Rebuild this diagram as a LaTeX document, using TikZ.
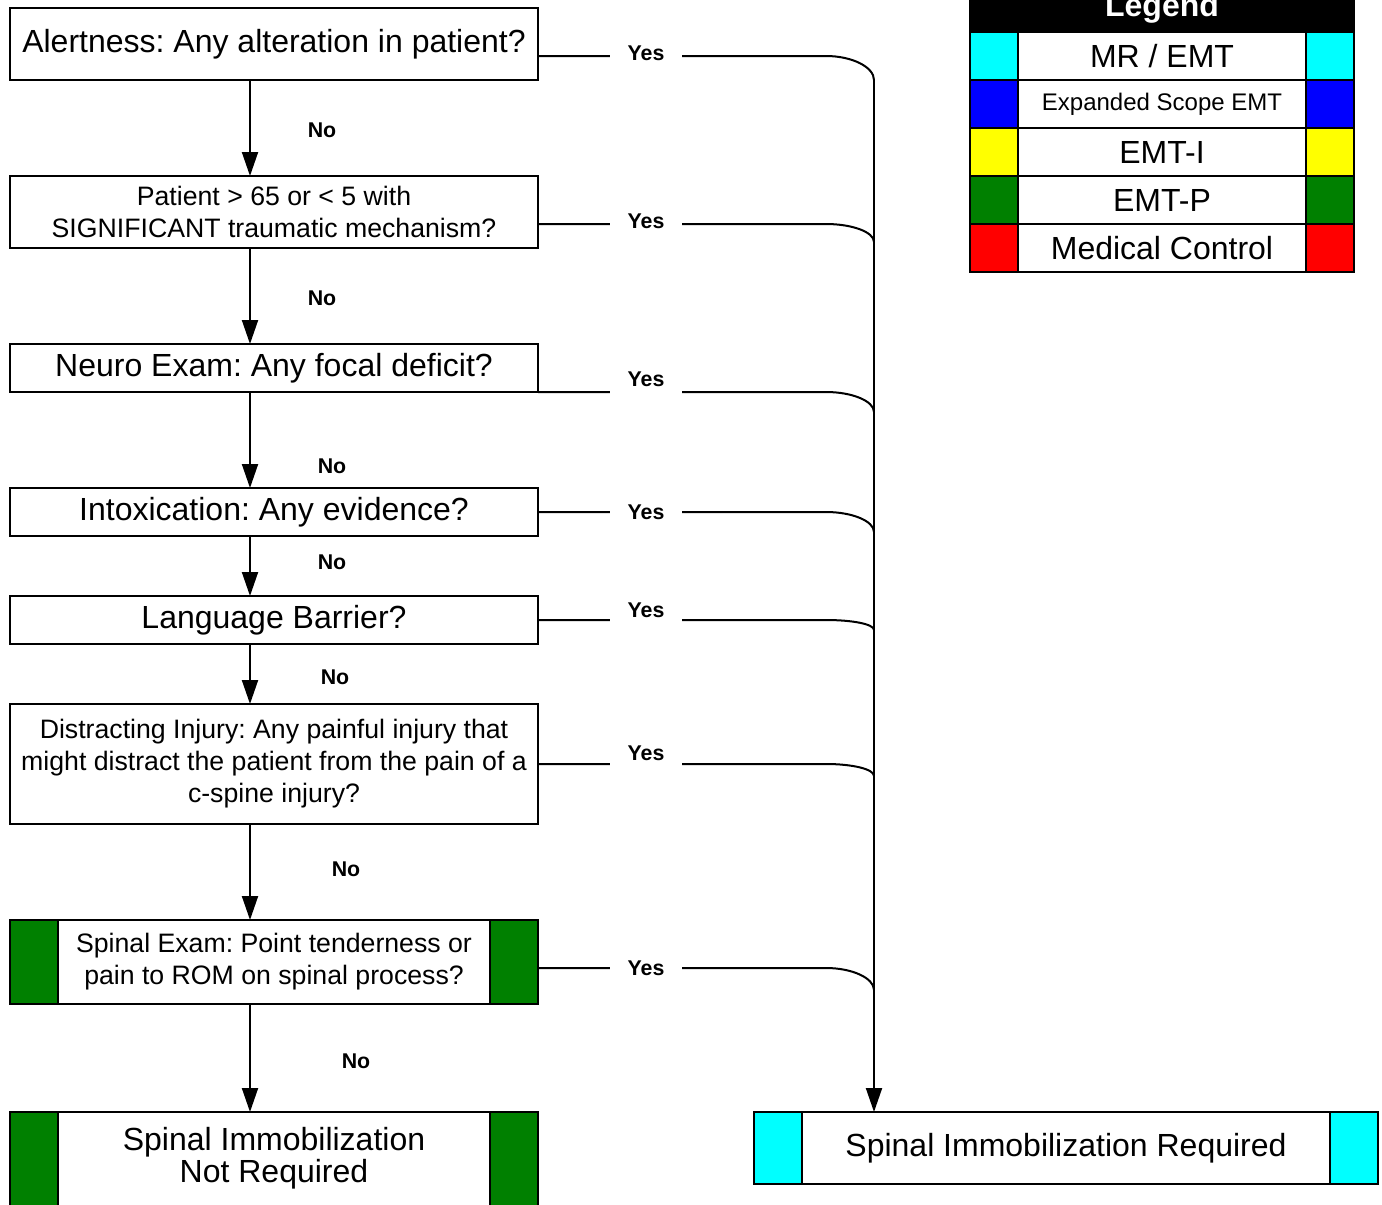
\documentclass[tikz,border=0pt]{standalone}
\usepackage{fontspec}
\setmainfont{Liberation Sans}
\frenchspacing
\usetikzlibrary{arrows.meta, positioning, calc}
\definecolor{mrcyan}{RGB}{0, 255, 255}
\definecolor{scopeblue}{RGB}{0, 0, 255}
\definecolor{emtiyellow}{RGB}{255, 255, 0}
\definecolor{emtpgreen}{RGB}{0, 128, 0}
\definecolor{medred}{RGB}{255, 0, 0}
\tikzset{
  >=Triangle,
  flowarrow/.style={-{Triangle[length=24pt, width=16pt]}, line width=2pt, black},
  yesline/.style={line width=2pt, black},
  stepbox/.style={draw, line width=2pt, fill=white, minimum width=528pt, inner sep=2pt, outer sep=0pt, align=center},
  bigtext/.style={font=\fontsize{32}{32}\selectfont},
  midtext/.style={font=\fontsize{26.67}{32}\selectfont},
  answer/.style={font=\bfseries\fontsize{21.33}{24}\selectfont, fill=white, inner sep=0pt, minimum width=72pt, minimum height=32pt},
  nolabel/.style={font=\bfseries\fontsize{21.33}{24}\selectfont, inner sep=0pt},
  colorbar/.style={draw, line width=2pt},
  legendrow/.style={draw, line width=2pt, fill=white, minimum width=384pt, minimum height=48pt, inner sep=0pt, outer sep=0pt, font=\fontsize{32}{32}\selectfont}
}
\begin{document}
\begin{tikzpicture}[x=1pt, y=-1pt, node distance=96pt]
\useasboundingbox (0,0) rectangle (1382,1205);
% questions
\node[stepbox, bigtext, minimum height=72pt] (a) at (274,44) {Alertness: Any alteration in patient?};
\node[stepbox, midtext, minimum height=72pt, below=of a] (b) {Patient > 65 or < 5 with\\SIGNIFICANT traumatic mechanism?};
\node[stepbox, bigtext, minimum height=48pt, below=of b] (c) {Neuro Exam: Any focal deficit?};
\node[stepbox, bigtext, minimum height=48pt, below=of c] (d) {Intoxication: Any evidence?};
\node[stepbox, bigtext, minimum height=48pt, below=60pt of d] (e) {Language Barrier?};
\node[stepbox, midtext, minimum height=120pt, below=60pt of e] (f) {Distracting Injury: Any painful injury that\\might distract the patient from the pain of a\\c-spine injury?};
\node[stepbox, midtext, minimum height=84pt, below=of f] (g) {Spinal Exam: Point tenderness or\\pain to ROM on spinal process?};
\draw[colorbar, fill=emtpgreen] (g.north west) rectangle ++(48,84);
\draw[colorbar, fill=emtpgreen] (g.north east) rectangle ++(-48,84);
% outcomes
\node[stepbox, minimum height=110pt, below=108pt of g] (h) {};
\draw[colorbar, fill=emtpgreen] (h.north west) rectangle ++(48,110);
\draw[colorbar, fill=emtpgreen] (h.north east) rectangle ++(-48,110);
\node[bigtext, align=center] (ht) at ($(h.north)+(0,46)$) {Spinal Immobilization\\Not Required};
\node[stepbox, bigtext, minimum width=624pt, minimum height=72pt] (k) at (1066,1148) {Spinal Immobilization Required};
\draw[colorbar, fill=mrcyan] (k.north west) rectangle ++(48,72);
\draw[colorbar, fill=mrcyan] (k.north east) rectangle ++(-48,72);
% legend
\node[legendrow, fill=black, text=white, font=\bfseries\fontsize{32}{32}\selectfont] (lg) at (1162,8) {Legend};
\node[legendrow, below=0pt of lg] (r1) {MR / EMT};
\node[legendrow, below=0pt of r1, font=\fontsize{24}{24}\selectfont] (r2) {Expanded Scope EMT};
\node[legendrow, below=0pt of r2] (r3) {EMT-I};
\node[legendrow, below=0pt of r3] (r4) {EMT-P};
\node[legendrow, below=0pt of r4] (r5) {Medical Control};
\draw[colorbar, fill=mrcyan] (r1.north west) rectangle ++(48,48);
\draw[colorbar, fill=mrcyan] (r1.north east) rectangle ++(-48,48);
\draw[colorbar, fill=scopeblue] (r2.north west) rectangle ++(48,48);
\draw[colorbar, fill=scopeblue] (r2.north east) rectangle ++(-48,48);
\draw[colorbar, fill=emtiyellow] (r3.north west) rectangle ++(48,48);
\draw[colorbar, fill=emtiyellow] (r3.north east) rectangle ++(-48,48);
\draw[colorbar, fill=emtpgreen] (r4.north west) rectangle ++(48,48);
\draw[colorbar, fill=emtpgreen] (r4.north east) rectangle ++(-48,48);
\draw[colorbar, fill=medred] (r5.north west) rectangle ++(48,48);
\draw[colorbar, fill=medred] (r5.north east) rectangle ++(-48,48);
% no branch
\draw[flowarrow] ([xshift=-24pt]a.south) -- ([xshift=-24pt]b.north) node[nolabel, midway, xshift=72pt, yshift=-2pt] (na) {No};
\draw[flowarrow] ([xshift=-24pt]b.south) -- ([xshift=-24pt]c.north) node[nolabel, midway, xshift=72pt, yshift=-2pt] (nb) {No};
\draw[flowarrow] ([xshift=-24pt]c.south) -- ([xshift=-24pt]d.north) node[nolabel, midway, xshift=82pt, yshift=-26pt] (nc) {No};
\draw[flowarrow] ([xshift=-24pt]d.south) -- ([xshift=-24pt]e.north) node[nolabel, midway, xshift=82pt, yshift=4pt] (nd) {No};
\draw[flowarrow] ([xshift=-24pt]e.south) -- ([xshift=-24pt]f.north) node[nolabel, midway, xshift=85pt, yshift=-3pt] (ne) {No};
\draw[flowarrow] ([xshift=-24pt]f.south) -- ([xshift=-24pt]g.north) node[nolabel, midway, xshift=96pt, yshift=3pt] (nf) {No};
\draw[flowarrow] ([xshift=-24pt]g.south) -- ([xshift=-24pt]h.north) node[nolabel, midway, xshift=106pt, yshift=-3pt] (ng) {No};
% yes branch
\coordinate (jn) at (874,80);
\draw[yesline] ([yshift=-12pt]a.east) -- ++(288,0) node[answer, pos=0.375, yshift=3pt] (ya) {Yes} .. controls +(26,0) and +(0,-13) .. (jn);
\draw[yesline] ([yshift=-12pt]b.east) -- ++(288,0) node[answer, pos=0.375, yshift=3pt] (yb) {Yes} .. controls +(26,0) and +(0,-10) .. ++(48,18);
\draw[yesline] (c.south east) -- ++(288,0) node[answer, pos=0.375, yshift=13pt] (yc) {Yes} .. controls +(26,0) and +(0,-11) .. ++(48,20);
\draw[yesline] (d.east) -- ++(288,0) node[answer, pos=0.375] (yd) {Yes} .. controls +(26,0) and +(0,-11) .. ++(48,20);
\draw[yesline] (e.east) -- ++(288,0) node[answer, pos=0.375, yshift=10pt] (ye) {Yes} .. controls +(26,0) and +(0,-6) .. ++(48,10);
\draw[yesline] (f.east) -- ++(288,0) node[answer, pos=0.375, yshift=11pt] (yf) {Yes} .. controls +(26,0) and +(0,-7) .. ++(48,12);
\draw[yesline] ([yshift=-6pt]g.east) -- ++(288,0) node[answer, pos=0.375] (yg) {Yes} .. controls +(26,0) and +(0,-12) .. ++(48,22);
\draw[flowarrow] (jn) -- (jn |- k.north);
\end{tikzpicture}
\end{document}
